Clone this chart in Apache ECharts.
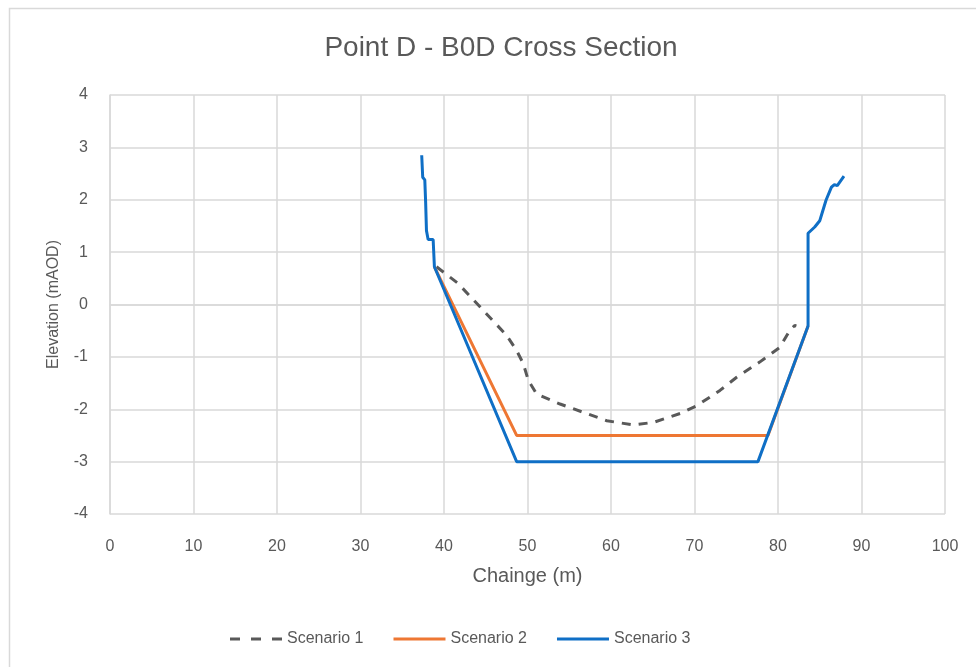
<!DOCTYPE html>
<html>
<head>
<meta charset="utf-8">
<script src="https://cdn.jsdelivr.net/npm/echarts@6/dist/echarts.min.js"></script>
<style>
html,body{margin:0;padding:0;background:#fff;}
#chart{width:976px;height:667px;}
</style>
</head>
<body>
<div id="chart"></div>
<script>
// Scenario 1 (existing bed, dashed)
const s1X = [39.1, 41.7, 45.1, 47.5, 48.7, 49.5, 50.1, 51.1, 52.7, 53.9, 56.7, 59.5, 62.7, 65.1, 68.3, 70.3, 73.05, 75.05, 77.8, 80.2, 81.4, 82.0, 82.2];
const s1Y = [0.72, 0.40, -0.18, -0.59, -0.88, -1.13, -1.45, -1.71, -1.82, -1.90, -2.06, -2.22, -2.30, -2.25, -2.08, -1.93, -1.64, -1.39, -1.10, -0.82, -0.50, -0.40, -0.41];
// Scenario 2
const s2X = [38.85, 48.7, 78.8, 83.6];
const s2Y = [0.72, -2.5, -2.5, -0.41];
// Scenario 3
const s3X = [37.33, 37.45, 37.7, 37.8, 37.9, 38.1, 38.7, 38.85, 48.7, 77.6, 83.6, 83.6, 84.4, 85.0, 85.75, 86.4, 86.75, 87.1, 87.9];
const s3Y = [2.85, 2.43, 2.38, 1.96, 1.41, 1.24, 1.24, 0.72, -3.0, -3.0, -0.41, 1.36, 1.48, 1.60, 1.99, 2.24, 2.29, 2.27, 2.45];

const seriesNames = ['Scenario 1', 'Scenario 2', 'Scenario 3'];
const xTicks = {min: 0, max: 100, interval: 10};
const yTicks = {min: -4, max: 4, interval: 1};

const zip = (xs, ys) => xs.map((x, i) => [x, ys[i]]);
const txt = '#595959';
const grid = '#d9d9d9';
const font = '"Liberation Sans", Arial, sans-serif';
const colors = ['#595959', '#EE7733', '#0F6FC6'];

const dashIcon = 'path://M0,0h10v3h-10z M21,0h10v3h-10z M42,0h10v3h-10z';
const solidIcon = 'path://M0,0h52v3h-52z';

const chart = echarts.init(document.getElementById('chart'), null, {renderer: 'canvas'});
chart.setOption({
  animation: false,
  backgroundColor: '#fff',
  graphic: [{
    type: 'rect', left: 7, top: 6, silent: true,
    shape: {width: 990, height: 680},
    style: {fill: 'none', stroke: '#d9d9d9', lineWidth: 1.5}
  }],
  title: {
    text: 'Point D - B0D Cross Section',
    left: 496, top: 29, textAlign: 'center',
    textStyle: {fontFamily: font, fontSize: 28, fontWeight: 'normal', color: txt}
  },
  grid: {left: 110, right: 31, top: 95, bottom: 153, containLabel: false},
  legend: {
    data: [
      {name: seriesNames[0], icon: dashIcon, itemStyle: {color: colors[0]}},
      {name: seriesNames[1], icon: solidIcon, itemStyle: {color: colors[1]}},
      {name: seriesNames[2], icon: solidIcon, itemStyle: {color: colors[2]}}
    ],
    bottom: 15, left: 225,
    itemWidth: 52, itemHeight: 3, itemGap: 30,
    textStyle: {fontFamily: font, fontSize: 16, color: txt}
  },
  xAxis: {
    type: 'value', min: xTicks.min, max: xTicks.max, interval: xTicks.interval,
    name: 'Chainge (m)', nameLocation: 'middle', nameGap: 52,
    nameTextStyle: {fontFamily: font, fontSize: 20, color: txt},
    axisLine: {show: true, lineStyle: {color: grid, width: 1.5}},
    axisTick: {show: false},
    axisLabel: {fontFamily: font, fontSize: 16, color: txt, margin: 25},
    splitLine: {show: true, lineStyle: {color: grid, width: 1.5}}
  },
  yAxis: {
    type: 'value', min: yTicks.min, max: yTicks.max, interval: yTicks.interval,
    name: 'Elevation (mAOD)', nameLocation: 'middle', nameGap: 48, nameRotate: 90,
    nameTextStyle: {fontFamily: font, fontSize: 16, color: txt},
    axisLine: {show: true, lineStyle: {color: grid, width: 1.5}},
    axisTick: {show: false},
    axisLabel: {fontFamily: font, fontSize: 16, color: txt, margin: 22},
    splitLine: {show: true, lineStyle: {color: grid, width: 1.5}}
  },
  series: [
    {
      name: seriesNames[0], type: 'line', data: zip(s1X, s1Y),
      symbol: 'none', showSymbol: false,
      lineStyle: {color: colors[0], width: 3, type: [9, 8]},
      itemStyle: {color: colors[0]}
    },
    {
      name: seriesNames[1], type: 'line', data: zip(s2X, s2Y),
      symbol: 'none', showSymbol: false,
      lineStyle: {color: colors[1], width: 3},
      itemStyle: {color: colors[1]}
    },
    {
      name: seriesNames[2], type: 'line', data: zip(s3X, s3Y),
      symbol: 'none', showSymbol: false,
      lineStyle: {color: colors[2], width: 3},
      itemStyle: {color: colors[2]}
    }
  ]
});
</script>
</body>
</html>
